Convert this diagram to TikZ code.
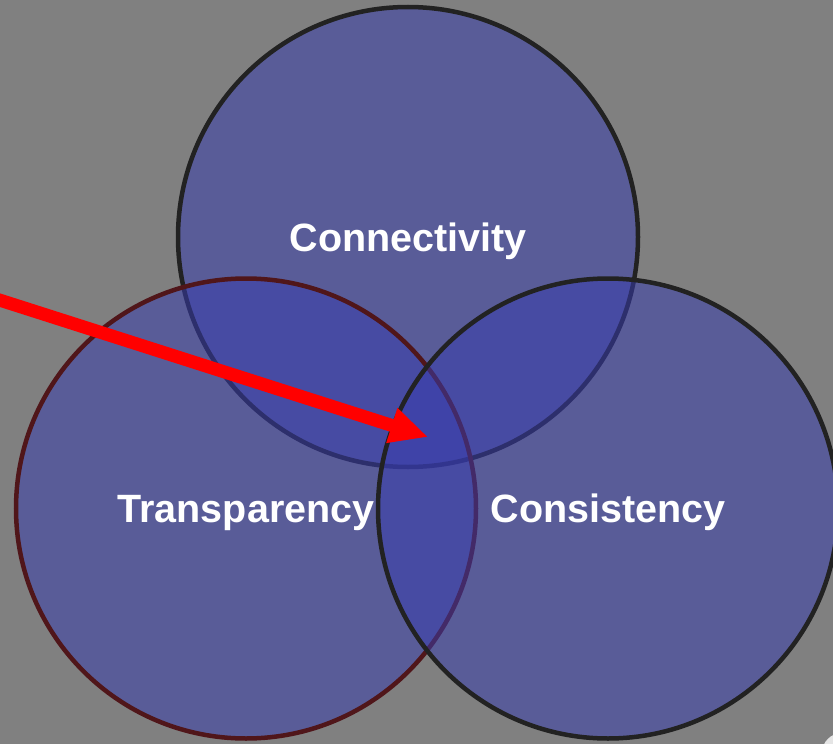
\documentclass[tikz,border=0pt]{standalone}
\usepackage{fontspec}
\setmainfont{Liberation Sans}
\usetikzlibrary{arrows.meta}
\definecolor{bg}{RGB}{128,128,128}
\definecolor{vfill}{RGB}{56,60,174}
\definecolor{darkred}{RGB}{80,22,26}
\definecolor{darkline}{RGB}{34,34,34}
\tikzset{
  venn/.style={circle, minimum size=460pt, inner sep=0pt, line width=4.5pt,
    fill=vfill, fill opacity=0.53, text opacity=1, text=white, text depth=0pt,
    font=\fontsize{39.5}{46}\selectfont\bfseries},
  pointer/.style={draw=red, line width=13pt, -{Triangle[length=38pt,width=34pt]}}
}
\begin{document}
\begin{tikzpicture}[x=1pt,y=-1pt]
\fill[bg] (0,0) rectangle (833,744);
\useasboundingbox (0,0) rectangle (833,744);
\node[venn, draw=darkline] (conn) at (408,237) {Connectivity};
\node[venn, draw=darkred] (trans) at (246,508.5) {Transparency};
\node[venn, draw=darkline] (cons) at (608,508.5) {Consistency};
\fill[gray!20] (842,753) circle (20);
\coordinate (start) at (-10,297);
\coordinate (tip) at (428,437);
\draw[pointer] (start) -- (tip);
\end{tikzpicture}
\end{document}
